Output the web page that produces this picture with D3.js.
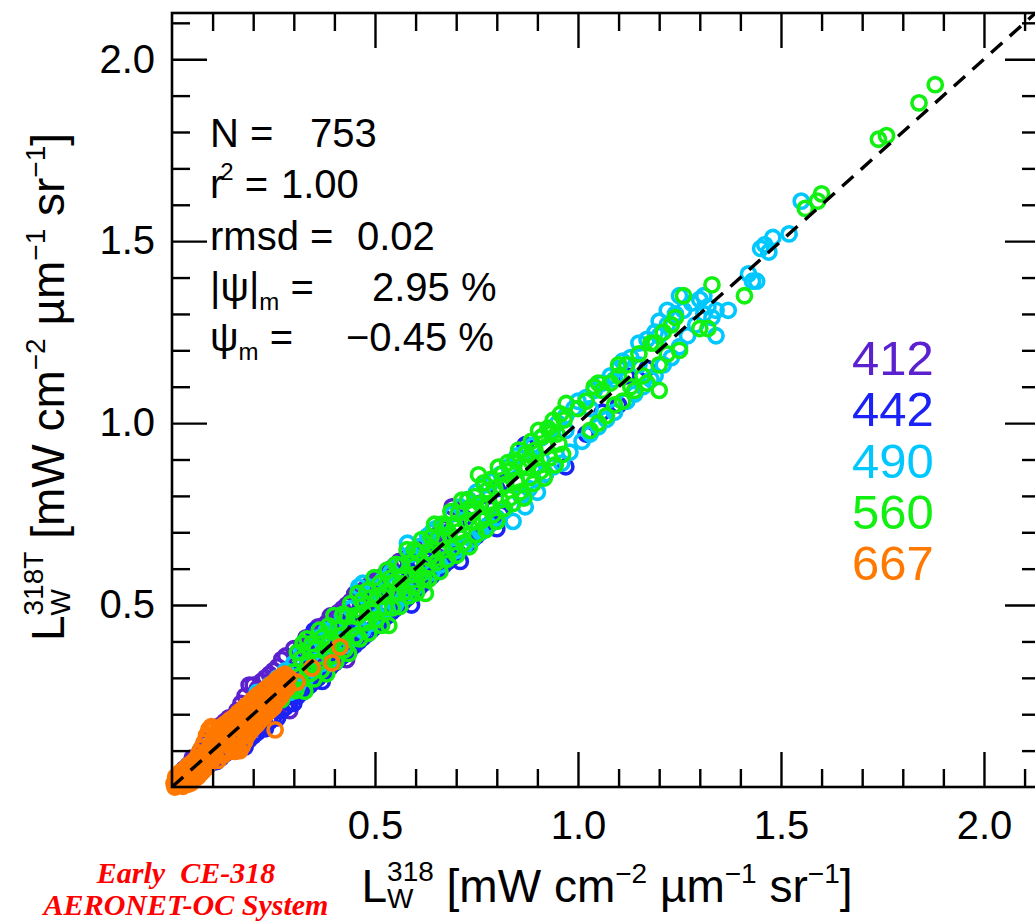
<!DOCTYPE html>
<html>
<head>
<meta charset="utf-8">
<script src="https://d3js.org/d3.v7.min.js"></script>
<style>
  html, body { margin: 0; padding: 0; background: #fff; }
  svg { display: block; }
</style>
</head>
<body>
<svg id="chart" width="1035" height="921"></svg>
<script>
// Matchup pairs [L_W(318), L_W(318T)] per band, mW cm^-2 um^-1 sr^-1
const bands = ["412", "442", "490", "560", "667"];
const bandColors = ["#5b21cf", "#1a22f5", "#00c8ff", "#12f012", "#ff7800"];

const band412 = [
  [0.03,0.05],[0.04,0.03],[0.05,0.08],[0.06,0.05],[0.07,0.10],[0.07,0.06],[0.08,0.12],[0.09,0.07],[0.09,0.13],[0.10,0.09],
  [0.11,0.15],[0.11,0.08],[0.12,0.17],[0.12,0.12],[0.13,0.18],[0.14,0.11],[0.14,0.19],[0.15,0.14],[0.16,0.21],[0.16,0.12],
  [0.17,0.23],[0.17,0.15],[0.18,0.25],[0.18,0.14],[0.19,0.28],[0.19,0.19],[0.20,0.28],[0.20,0.16],[0.21,0.27],[0.21,0.20],
  [0.22,0.29],[0.22,0.17],[0.23,0.30],[0.23,0.22],[0.24,0.31],[0.24,0.19],[0.25,0.32],[0.25,0.24],[0.26,0.33],[0.26,0.21],
  [0.27,0.35],[0.27,0.26],[0.28,0.36],[0.29,0.21],[0.29,0.31],[0.30,0.38],[0.30,0.27],[0.31,0.37],[0.31,0.29],[0.32,0.39],
  [0.32,0.30],[0.33,0.41],[0.33,0.28],[0.34,0.40],[0.34,0.33],[0.35,0.42],[0.35,0.31],[0.36,0.44],[0.36,0.35],[0.37,0.43],
  [0.37,0.33],[0.38,0.45],[0.38,0.36],[0.39,0.47],[0.39,0.37],[0.40,0.46],[0.40,0.35],[0.41,0.48],[0.41,0.40],[0.42,0.49],
  [0.42,0.38],[0.43,0.35],[0.43,0.50],[0.44,0.51],[0.44,0.42],[0.45,0.53],[0.45,0.41],[0.46,0.52],[0.46,0.44],[0.47,0.54],
  [0.47,0.43],[0.48,0.55],[0.48,0.46],[0.49,0.56],[0.49,0.45],[0.50,0.57],[0.50,0.48],[0.51,0.57],[0.51,0.47],[0.52,0.58],
  [0.52,0.50],[0.53,0.59],[0.53,0.49],[0.54,0.60],[0.54,0.52],[0.55,0.61],[0.55,0.50],[0.56,0.62],[0.56,0.54],[0.57,0.62],
  [0.57,0.53],[0.58,0.63],[0.58,0.55],[0.59,0.64],[0.59,0.56],[0.60,0.65],[0.60,0.57],[0.61,0.66],[0.61,0.58],[0.62,0.66],
  [0.62,0.59],[0.63,0.67],[0.63,0.60],[0.64,0.68],[0.64,0.61],[0.65,0.69],[0.65,0.62],[0.66,0.70],[0.66,0.63],[0.67,0.71],
  [0.45,0.47],[0.69,0.77],[0.87,0.94]
];

const band442 = [
  [0.03,0.02],[0.04,0.06],[0.05,0.03],[0.06,0.08],[0.07,0.04],[0.07,0.09],[0.08,0.05],[0.09,0.10],[0.09,0.06],[0.10,0.12],
  [0.11,0.07],[0.11,0.13],[0.12,0.08],[0.13,0.15],[0.13,0.09],[0.14,0.16],[0.15,0.10],[0.15,0.17],[0.16,0.11],[0.17,0.19],
  [0.17,0.11],[0.18,0.11],[0.18,0.21],[0.19,0.13],[0.20,0.22],[0.20,0.14],[0.21,0.15],[0.21,0.24],[0.22,0.16],[0.23,0.25],
  [0.23,0.16],[0.24,0.18],[0.24,0.27],[0.25,0.19],[0.26,0.28],[0.26,0.19],[0.27,0.21],[0.28,0.30],[0.28,0.22],[0.29,0.23],
  [0.30,0.32],[0.30,0.23],[0.31,0.25],[0.32,0.34],[0.32,0.26],[0.33,0.27],[0.34,0.36],[0.34,0.28],[0.35,0.43],[0.35,0.29],
  [0.36,0.38],[0.36,0.30],[0.37,0.29],[0.38,0.40],[0.38,0.32],[0.39,0.33],[0.40,0.42],[0.40,0.34],[0.41,0.35],[0.42,0.44],
  [0.42,0.36],[0.43,0.37],[0.44,0.46],[0.44,0.38],[0.45,0.39],[0.46,0.48],[0.46,0.40],[0.47,0.41],[0.48,0.50],[0.48,0.42],
  [0.49,0.43],[0.50,0.52],[0.50,0.44],[0.51,0.45],[0.52,0.54],[0.52,0.46],[0.53,0.47],[0.54,0.56],[0.54,0.48],[0.55,0.49],
  [0.56,0.58],[0.56,0.50],[0.57,0.51],[0.58,0.60],[0.58,0.52],[0.59,0.50],[0.60,0.62],[0.60,0.54],[0.61,0.55],[0.62,0.64],
  [0.62,0.56],[0.63,0.57],[0.64,0.66],[0.64,0.58],[0.65,0.59],[0.66,0.68],[0.66,0.60],[0.67,0.61],[0.68,0.70],[0.68,0.62],
  [0.69,0.63],[0.70,0.72],[0.70,0.64],[0.71,0.62],[0.72,0.74],[0.72,0.66],[0.73,0.67],[0.74,0.76],[0.74,0.68],[0.75,0.69],
  [0.76,0.78],[0.76,0.70],[0.77,0.71],[0.78,0.80],[0.78,0.72],[0.79,0.73],[0.80,0.82],[0.80,0.71],[0.81,0.75],[0.82,0.84],
  [0.86,0.80],[0.87,0.94],[0.92,0.86],[0.97,0.88],[1.02,0.97],[1.06,1.03],[1.10,1.05],[1.12,1.13],[1.17,1.15]
];

const band490 = [
  [0.21,0.26],[0.22,0.25],[0.24,0.28],[0.26,0.30],[0.28,0.32],
  [0.29,0.26],[0.30,0.34],[0.31,0.28],[0.32,0.37],[0.33,0.30],[0.34,0.38],[0.35,0.32],[0.36,0.41],[0.37,0.34],[0.38,0.43],
  [0.39,0.35],[0.40,0.44],[0.41,0.38],[0.42,0.47],[0.43,0.39],[0.44,0.49],[0.45,0.41],[0.46,0.55],[0.47,0.43],[0.47,0.56],
  [0.48,0.52],[0.49,0.45],[0.50,0.55],[0.51,0.47],[0.52,0.57],[0.53,0.49],[0.54,0.59],[0.55,0.50],[0.56,0.61],[0.57,0.52],
  [0.58,0.67],[0.58,0.54],[0.59,0.64],[0.60,0.55],[0.61,0.66],[0.62,0.57],[0.63,0.69],[0.64,0.70],[0.64,0.59],[0.65,0.71],
  [0.66,0.61],[0.67,0.72],[0.68,0.63],[0.69,0.75],[0.70,0.65],[0.71,0.77],[0.72,0.66],[0.73,0.79],[0.74,0.68],[0.75,0.81],
  [0.76,0.70],[0.77,0.83],[0.78,0.72],[0.79,0.84],[0.80,0.74],[0.81,0.86],[0.82,0.76],[0.83,0.88],[0.84,0.73],[0.85,0.91],
  [0.86,0.80],[0.87,0.77],[0.87,0.92],[0.88,0.82],[0.89,0.94],[0.90,0.81],[0.91,0.96],[0.92,0.86],[0.93,0.98],[0.94,0.88],
  [0.95,1.00],[0.96,0.89],[0.97,1.02],[0.98,0.92],[0.99,1.04],[1.00,1.06],[1.01,0.95],[1.02,1.07],[1.03,0.97],[1.04,1.09],
  [1.05,0.99],[1.06,1.11],[1.07,1.01],[1.08,1.13],[1.09,1.03],[1.10,1.15],[1.11,1.17],[1.12,1.06],[1.13,1.18],[1.14,1.08],
  [1.15,1.22],[1.16,1.10],[1.17,1.23],[1.18,1.12],[1.19,1.13],[1.19,1.25],[1.20,1.28],[1.21,1.16],[1.22,1.27],[1.23,1.18],
  [1.24,1.30],[1.25,1.35],[1.25,1.21],[1.26,1.31],[1.27,1.24],[1.28,1.33],[1.29,1.27],[1.30,1.34],[1.31,1.30],[1.31,1.35],
  [1.32,1.32],[1.33,1.29],[1.34,1.31],[1.37,1.31],[1.34,1.24],[1.42,1.41],[1.43,1.39],[1.44,1.39],[1.45,1.48],[1.46,1.49],
  [1.48,1.51],[1.47,1.47],[1.52,1.52],[1.55,1.61],[1.20,1.24],[1.22,1.31],[1.15,1.16],[1.09,1.12],[1.03,1.04],[0.97,0.98],
  [0.91,0.90]
];

const band560 = [
  [0.12,0.14],[0.15,0.13],[0.18,0.20],[0.20,0.17],[0.22,0.24],[0.24,0.21],[0.26,0.27],[0.27,0.24],[0.28,0.30],[0.29,0.27],
  [0.300,0.316],[0.305,0.265],[0.309,0.370],[0.314,0.304],[0.318,0.352],[0.323,0.395],[0.327,0.263],[0.332,0.407],[0.336,0.339],[0.341,0.312],
  [0.345,0.394],[0.350,0.297],[0.354,0.379],[0.359,0.342],[0.363,0.431],[0.368,0.321],[0.372,0.412],[0.377,0.373],[0.381,0.311],[0.386,0.443],
  [0.390,0.400],[0.395,0.360],[0.399,0.471],[0.404,0.345],[0.408,0.435],[0.413,0.415],[0.417,0.394],[0.422,0.475],[0.426,0.378],[0.431,0.469],
  [0.435,0.367],[0.440,0.504],[0.444,0.436],[0.449,0.470],[0.453,0.415],[0.458,0.532],[0.462,0.407],[0.467,0.511],[0.471,0.479],[0.476,0.451],
  [0.480,0.539],[0.485,0.423],[0.489,0.520],[0.494,0.480],[0.498,0.575],[0.503,0.460],[0.507,0.525],[0.512,0.560],[0.516,0.444],[0.521,0.524],
  [0.525,0.494],[0.530,0.596],[0.534,0.444],[0.539,0.574],[0.543,0.492],[0.548,0.562],[0.552,0.612],[0.557,0.536],[0.561,0.496],[0.566,0.609],
  [0.570,0.579],[0.575,0.536],[0.579,0.652],[0.584,0.525],[0.588,0.614],[0.593,0.583],[0.597,0.652],[0.602,0.533],[0.606,0.644],[0.611,0.584],
  [0.615,0.680],[0.620,0.574],[0.624,0.532],[0.629,0.646],[0.633,0.572],[0.638,0.687],[0.642,0.640],[0.647,0.722],[0.651,0.617],[0.656,0.686],
  [0.660,0.592],[0.665,0.722],[0.669,0.651],[0.674,0.714],[0.678,0.626],[0.683,0.695],[0.687,0.757],[0.692,0.656],[0.696,0.719],[0.701,0.637],
  [0.705,0.752],[0.710,0.685],[0.714,0.788],[0.719,0.671],[0.723,0.728],[0.728,0.789],[0.732,0.660],[0.737,0.770],[0.741,0.728],[0.746,0.798],
  [0.750,0.694],[0.755,0.858],[0.759,0.779],[0.764,0.733],[0.768,0.836],[0.773,0.707],[0.777,0.816],[0.782,0.778],[0.786,0.845],[0.791,0.748],
  [0.795,0.822],[0.800,0.730],[0.804,0.879],[0.809,0.789],[0.813,0.860],[0.818,0.766],[0.822,0.832],[0.827,0.891],[0.831,0.793],[0.836,0.871],
  [0.840,0.779],[0.845,0.898],[0.849,0.837],[0.854,0.926],[0.858,0.811],[0.863,0.884],[0.867,0.794],[0.872,0.916],[0.876,0.878],[0.881,0.850],
  [0.885,0.950],[0.890,0.834],[0.894,0.925],[0.899,0.883],[0.903,0.980],[0.908,0.868],[0.912,0.963],[0.917,0.849],[0.921,0.935],[0.926,0.986],
  [0.930,0.904],[0.935,0.973],[0.939,1.008],[0.944,0.885],[0.948,0.970],[0.953,0.943],[0.957,1.025],[0.962,0.914],[0.966,1.009],[0.971,1.054],
  [0.383,0.392],[0.421,0.418],[0.457,0.468],[0.492,0.489],[0.528,0.537],[0.563,0.559],[0.598,0.607],[0.634,0.629],[0.669,0.679],[0.705,0.701],
  [0.741,0.752],[0.777,0.771],[0.812,0.824],[0.848,0.843],[0.884,0.896],
  [1.00,1.04],[1.02,1.06],[1.03,0.98],[1.04,1.10],[1.05,1.11],[1.05,1.00],[1.06,1.09],[1.07,1.02],[1.08,1.11],[1.09,1.05],
  [1.10,1.13],[1.10,1.16],[1.11,1.06],[1.12,1.16],[1.13,1.10],[1.14,1.09],[1.15,1.19],[1.16,1.13],[1.17,1.11],[1.18,1.22],
  [1.19,1.22],[1.20,1.09],[1.20,1.16],[1.21,1.25],[1.22,1.19],[1.23,1.27],[1.24,1.29],[1.25,1.20],[1.26,1.35],
  [1.33,1.38],[1.41,1.35],[1.32,1.26],[1.30,1.26],[1.56,1.59],[1.59,1.61],[1.60,1.63],[1.74,1.78],[1.76,1.79],[1.84,1.88],[1.88,1.93]
];

const band667 = [
  [0.005,0.010],[0.007,0.000],[0.009,0.028],[0.011,0.004],[0.013,0.021],[0.015,0.032],[0.017,0.006],[0.019,0.015],[0.021,0.041],[0.023,0.010],
  [0.025,0.030],[0.027,0.002],[0.029,0.046],[0.031,0.020],[0.033,0.012],[0.035,0.052],[0.037,0.031],[0.039,0.008],[0.041,0.060],[0.043,0.025],
  [0.045,0.040],[0.047,0.011],[0.049,0.066],[0.051,0.034],[0.053,0.018],[0.055,0.071],[0.057,0.045],[0.059,0.026],[0.061,0.081],[0.063,0.052],
  [0.065,0.030],[0.067,0.094],[0.069,0.060],[0.071,0.038],[0.073,0.107],[0.075,0.071],[0.077,0.045],[0.079,0.122],[0.081,0.083],[0.083,0.052],
  [0.085,0.142],[0.087,0.097],[0.089,0.061],[0.091,0.158],[0.093,0.110],[0.095,0.070],[0.097,0.166],[0.099,0.122],[0.101,0.077],[0.103,0.160],
  [0.105,0.131],[0.107,0.085],[0.109,0.152],[0.111,0.118],[0.113,0.073],[0.115,0.158],[0.117,0.129],[0.119,0.094],[0.121,0.165],[0.123,0.140],
  [0.125,0.087],[0.127,0.170],[0.129,0.151],[0.131,0.102],[0.133,0.175],[0.135,0.146],[0.137,0.096],[0.139,0.180],[0.141,0.153],[0.143,0.111],
  [0.145,0.186],[0.147,0.160],[0.149,0.104],[0.151,0.190],[0.153,0.168],[0.155,0.098],[0.157,0.196],[0.159,0.173],[0.161,0.103],[0.163,0.204],
  [0.165,0.181],[0.167,0.100],[0.169,0.209],[0.171,0.140],[0.173,0.112],[0.175,0.214],[0.177,0.192],[0.179,0.125],[0.181,0.222],[0.183,0.197],
  [0.185,0.141],[0.187,0.226],[0.189,0.168],[0.191,0.150],[0.193,0.232],[0.195,0.210],[0.197,0.158],[0.199,0.240],[0.201,0.183],[0.203,0.166],
  [0.205,0.245],[0.207,0.221],[0.209,0.172],[0.211,0.252],[0.213,0.196],[0.215,0.181],[0.217,0.256],[0.219,0.233],[0.221,0.188],[0.223,0.262],
  [0.225,0.209],[0.227,0.193],[0.229,0.268],[0.231,0.244],[0.233,0.202],[0.235,0.272],[0.237,0.221],[0.239,0.208],[0.241,0.279],[0.243,0.256],
  [0.245,0.214],[0.247,0.284],[0.249,0.232],[0.251,0.220],[0.253,0.289],[0.255,0.262],[0.257,0.238],[0.259,0.296],[0.261,0.271],[0.263,0.242],
  [0.265,0.301],[0.267,0.278],[0.269,0.250],[0.271,0.305],[0.273,0.283],[0.275,0.262],[0.278,0.310],[0.281,0.289],[0.284,0.272],[0.287,0.301],
  [0.060,0.060],[0.110,0.112],[0.150,0.148],[0.200,0.204],[0.240,0.243],
  [0.254,0.157],[0.308,0.288],[0.345,0.327],[0.394,0.341],[0.414,0.385]
];

const bandData = [band412, band442, band490, band560, band667];

// Axis ticks
const majorTicks = [0.5, 1.0, 1.5, 2.0];
const minorTicks = [0.1,0.2,0.3,0.4,0.6,0.7,0.8,0.9,1.1,1.2,1.3,1.4,1.6,1.7,1.8,1.9,2.1];

// Statistics block
const statN = "753";
const statR2 = "1.00";
const statRmsd = "0.02";
const statAbsPsi = "2.95 %";
const statPsi = "\u22120.45 %";

// Caption lines
const captionLines = ["Early  CE-318", "AERONET-OC System"];

const svg = d3.select("#chart");
const FONT = "'Liberation Sans', Arial, Helvetica, sans-serif";

svg.append("rect").attr("width", 1035).attr("height", 921).attr("fill", "#fff");

const x = d3.scaleLinear().domain([0, 2.138]).range([172, 1040]);
const y = d3.scaleLinear().domain([0, 2.127]).range([787, 13]);

// Scatter: bands drawn in order, longest wavelength on top
const pts = svg.append("g").attr("fill", "none").attr("stroke-width", 3.6);
bandData.forEach((arr, i) => {
  pts.append("g")
    .attr("stroke", bandColors[i])
    .selectAll("circle")
    .data(arr)
    .join("circle")
    .attr("cx", d => x(d[0]))
    .attr("cy", d => y(d[1]))
    .attr("r", 7.1);
});

// 1:1 line
const lim = 2.127;
svg.append("line")
  .attr("x1", x(0)).attr("y1", y(0))
  .attr("x2", x(lim)).attr("y2", y(lim))
  .attr("stroke", "#000").attr("stroke-width", 3.4)
  .attr("stroke-dasharray", "15,10");

// Axes with inward ticks on all four sides
function styleAxis(g) {
  g.select(".domain").remove();
  g.selectAll(".tick line").attr("stroke", "#000").attr("stroke-width", 2.4);
  g.selectAll(".tick text").attr("fill", "#000").attr("font-family", FONT).attr("font-size", 40);
}
const noLabel = () => "";

svg.append("g").attr("transform", "translate(0,787)")
  .call(d3.axisBottom(x).tickValues(minorTicks).tickSize(-18).tickFormat(noLabel)).call(styleAxis);
svg.append("g").attr("transform", "translate(0,787)")
  .call(d3.axisBottom(x).tickValues(majorTicks).tickSize(-35).tickPadding(24).tickFormat(d3.format(".1f"))).call(styleAxis);

svg.append("g").attr("transform", "translate(0,13)")
  .call(d3.axisTop(x).tickValues(minorTicks).tickSize(-18).tickFormat(noLabel)).call(styleAxis);
svg.append("g").attr("transform", "translate(0,13)")
  .call(d3.axisTop(x).tickValues(majorTicks).tickSize(-35).tickFormat(noLabel)).call(styleAxis);

svg.append("g").attr("transform", "translate(172,0)")
  .call(d3.axisLeft(y).tickValues(minorTicks).tickSize(-18).tickFormat(noLabel)).call(styleAxis);
svg.append("g").attr("transform", "translate(172,0)")
  .call(d3.axisLeft(y).tickValues(majorTicks).tickSize(-35).tickPadding(17).tickFormat(d3.format(".1f"))).call(styleAxis);

svg.append("g").attr("transform", "translate(1040,0)")
  .call(d3.axisRight(y).tickValues(minorTicks).tickSize(-18).tickFormat(noLabel)).call(styleAxis);
svg.append("g").attr("transform", "translate(1040,0)")
  .call(d3.axisRight(y).tickValues(majorTicks).tickSize(-35).tickFormat(noLabel)).call(styleAxis);

// Plot frame
svg.append("rect")
  .attr("x", x(0)).attr("y", y(2.127))
  .attr("width", x(2.138) - x(0)).attr("height", y(0) - y(2.127))
  .attr("fill", "none").attr("stroke", "#000").attr("stroke-width", 2.6);

// Axis titles
function radianceLabel(t, sup) {
  const small = 28;
  t.append("tspan").text("L");
  t.append("tspan").attr("font-size", small).attr("dy", 6).text("W");
  t.append("tspan").attr("font-size", small).attr("dx", -26.4).attr("dy", -27).text(sup);
  t.append("tspan").attr("dy", 21).text(" [mW cm");
  t.append("tspan").attr("font-size", small).attr("dy", -19).text("\u22122");
  t.append("tspan").attr("dy", 19).text(" \u00b5m");
  t.append("tspan").attr("font-size", small).attr("dy", -19).text("\u22121");
  t.append("tspan").attr("dy", 19).text(" sr");
  t.append("tspan").attr("font-size", small).attr("dy", -19).text("\u22121");
  t.append("tspan").attr("dy", 19).text("]");
}

svg.append("text")
  .attr("x", 607).attr("y", 902)
  .attr("text-anchor", "middle")
  .attr("font-family", FONT).attr("font-size", 46).attr("fill", "#000")
  .call(radianceLabel, "318");

svg.append("text")
  .attr("transform", "translate(64,387) rotate(-90)")
  .attr("text-anchor", "middle")
  .attr("font-family", FONT).attr("font-size", 46).attr("fill", "#000")
  .call(radianceLabel, "318T");

// Statistics
const stats = svg.append("g").attr("font-family", FONT).attr("font-size", 40).attr("fill", "#000");
const statX = 210;

let t = stats.append("text").attr("x", statX).attr("y", 147);
t.append("tspan").text("N =");
stats.append("text").attr("x", 310).attr("y", 147).text(statN);

t = stats.append("text").attr("x", statX).attr("y", 198);
t.append("tspan").text("r");
t.append("tspan").attr("font-size", 24).attr("dx", -3).attr("dy", -18).text("2");
t.append("tspan").attr("dy", 18).text(" =");
stats.append("text").attr("x", 281).attr("y", 198).text(statR2);

stats.append("text").attr("x", statX).attr("y", 250).text("rmsd =");
stats.append("text").attr("x", 357).attr("y", 250).text(statRmsd);

t = stats.append("text").attr("x", statX).attr("y", 301);
t.append("tspan").text("|\u03c8|");
t.append("tspan").attr("font-size", 24).attr("dy", 9).text("m");
t.append("tspan").attr("dy", -9).text(" =");
stats.append("text").attr("x", 372).attr("y", 301).text(statAbsPsi);

t = stats.append("text").attr("x", statX).attr("y", 351);
t.append("tspan").text("\u03c8");
t.append("tspan").attr("font-size", 24).attr("dy", 9).text("m");
t.append("tspan").attr("dy", -9).text(" =");
stats.append("text").attr("x", 346).attr("y", 351).text(statPsi);

// Band legend
svg.append("g")
  .attr("font-family", FONT).attr("font-size", 49)
  .selectAll("text")
  .data(bands)
  .join("text")
  .attr("x", 852)
  .attr("y", (d, i) => 375 + i * 51.3)
  .attr("fill", (d, i) => bandColors[i])
  .text(d => d);

// System caption
svg.append("g")
  .attr("font-family", "'Liberation Serif', 'Times New Roman', serif")
  .attr("font-size", 30).attr("font-weight", "bold").attr("font-style", "italic")
  .attr("fill", "#ff0000").attr("text-anchor", "middle")
  .selectAll("text")
  .data(captionLines)
  .join("text")
  .style("white-space", "pre")
  .attr("x", 186)
  .attr("y", (d, i) => 883 + i * 32)
  .text(d => d);
</script>
</body>
</html>
